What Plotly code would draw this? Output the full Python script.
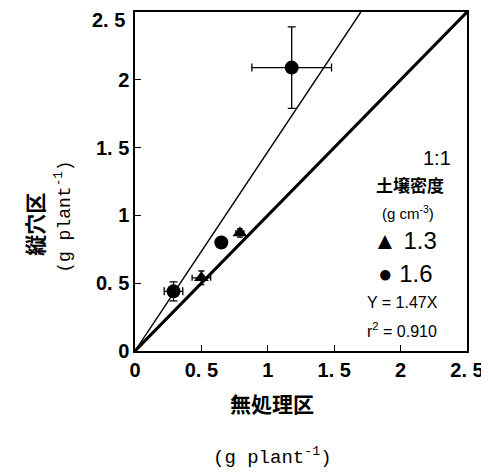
import plotly.graph_objects as go

# Data
tri_x = [0.50, 0.79]
tri_y = [0.54, 0.87]
tri_xerr = [0.07, 0.03]
tri_yerr = [0.05, 0.03]

cir_x = [0.29, 0.65, 1.18]
cir_y = [0.44, 0.80, 2.09]
cir_xerr = [0.07, 0.0, 0.30]
cir_yerr = [0.07, 0.0, 0.30]

slope = 1.47
one_x = [0, 2.5]
one_y = [0, 2.5]
reg_x = [0, 2.5 / slope]
reg_y = [0, 2.5]

tick_vals = [0, 0.5, 1, 1.5, 2, 2.5]
tick_text = ["0", "0. 5", "1", "1. 5", "2", "2. 5"]

fig = go.Figure()
fig.add_trace(go.Scatter(x=one_x, y=one_y, mode="lines",
                         line=dict(color="black", width=3), showlegend=False))
fig.add_trace(go.Scatter(x=reg_x, y=reg_y, mode="lines",
                         line=dict(color="black", width=1.4), showlegend=False))
fig.add_trace(go.Scatter(
    x=tri_x, y=tri_y, mode="markers",
    marker=dict(symbol="triangle-up", size=13, color="black"),
    error_x=dict(type="data", array=tri_xerr, color="black", thickness=1.3, width=3),
    error_y=dict(type="data", array=tri_yerr, color="black", thickness=1.3, width=3),
    showlegend=False))
fig.add_trace(go.Scatter(
    x=cir_x, y=cir_y, mode="markers",
    marker=dict(symbol="circle", size=14, color="black"),
    error_x=dict(type="data", array=cir_xerr, color="black", thickness=1.3, width=4),
    error_y=dict(type="data", array=cir_yerr, color="black", thickness=1.3, width=4),
    showlegend=False))

OFF = 8  # page body margin
W, H = 489 - OFF, 475 - OFF
# plot area in screenshot coordinates
PL, PR, PT, PB = 135, 467, 10, 351
L, T = PL - OFF, PT - OFF
R = W - (PR - OFF)
B = H - (PB - OFF)
pw, ph = PR - PL, PB - PT

def px(x):
    return (x - PL) / pw

def py(y):
    return (PB - y) / ph

FONT = "Liberation Sans, Arial"
tickfont = dict(family=FONT, size=20, color="black", weight="bold")
ann = []
def add(text, x, y, size, family=FONT, weight="normal", angle=0, xanchor="center"):
    ann.append(dict(text=text, x=px(x), y=py(y), xref="paper", yref="paper",
                    showarrow=False, textangle=angle,
                    font=dict(family=family, size=size, color="black", weight=weight),
                    xanchor=xanchor, yanchor="middle"))

cjk = "Noto Sans CJK JP"
mono = "Liberation Mono, DejaVu Sans Mono"
add("1:1", 437, 157, 20)
add("土壌密度", 410, 184, 17, family=cjk, weight="bold")
add("(g cm<sup>-3</sup>)", 408, 212, 15)
add("▲ 1.3", 405, 240, 24)
add("● 1.6", 405, 273, 24)
add("Y = 1.47X", 402, 302, 16)
add("r<sup>2</sup> = 0.910", 402, 330, 16)
add("無処理区", 272, 403, 21, family=cjk, weight="bold")
add("(g plant<sup>-1</sup>)", 272, 457, 19, family=mono)
add("縦穴区", 34, 224, 21, family=cjk, weight="bold", angle=-90)
add("(g plant<sup>-1</sup>)", 64, 216, 18, family=mono, angle=-90)
# top y tick label (would be clipped at the figure's top edge)
add(tick_text[-1], 127, 18, 20, weight="bold", xanchor="right")

y_ticktext = tick_text[:-1] + [""]

axis_common = dict(range=[0, 2.5], tickvals=tick_vals,
                   ticks="inside", ticklen=6, tickwidth=1.2, tickcolor="black",
                   showline=True, linecolor="black", linewidth=1.5, mirror=True,
                   showgrid=False, zeroline=False, tickfont=tickfont)

fig.update_layout(
    width=W, height=H,
    margin=dict(l=L, r=R, t=T, b=B),
    paper_bgcolor="white", plot_bgcolor="white",
    xaxis=dict(ticktext=tick_text, **axis_common),
    yaxis=dict(ticktext=y_ticktext, **axis_common),
    annotations=ann,
)
fig.write_html("out.html")
